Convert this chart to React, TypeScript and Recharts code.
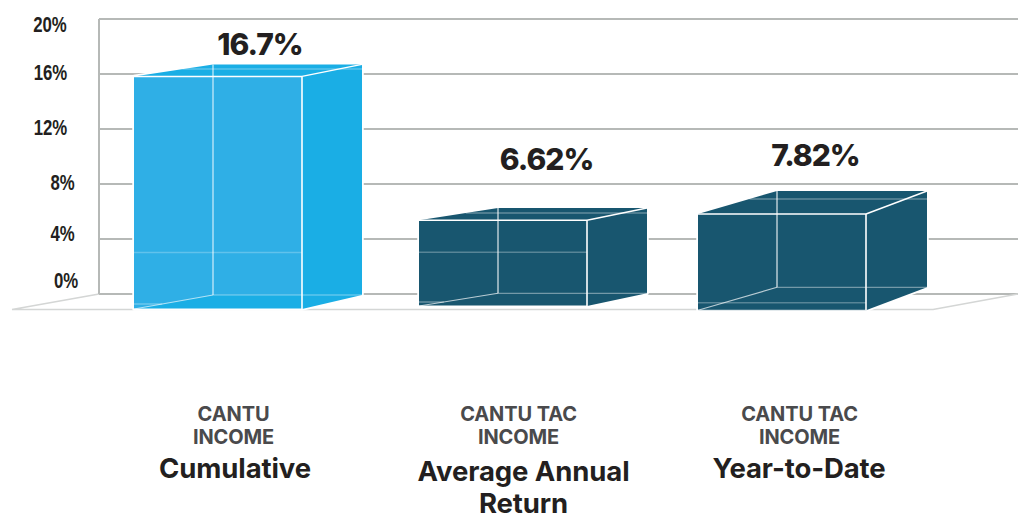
import React from "react";
import { ComposedChart, Bar, XAxis, YAxis, CartesianGrid, LabelList, Customized } from "recharts";

const fundNames = ["CANTU|INCOME", "CANTU TAC|INCOME", "CANTU TAC|INCOME"];
const periods = ["Cumulative", "Average Annual|Return", "Year-to-Date"];
const returns = [16.7, 6.62, 7.82];
const yTicks = [0, 4, 8, 12, 16, 20];

const data = periods.map((period, i) => ({ key: String(i), period, fund: fundNames[i], value: returns[i] }));

const W = 1018, H = 514, LEFT = 99, TOP = 19, BASE = 294;
const GRID = "#b6b9b7";
const FONT = "Inter, sans-serif";

// perspective of each drawn box, relative to the rectangle given by the bar scale
const BOX = [
  { dx: 0, dw: 0, back: 0, front: 12, frontLow: 15, backLow: 1, light: "#2fafe6", dark: "#1aaee5", hairTop: 69, hairFront: [252.5], hairLow: 304, line: 0.35 },
  { dx: 3, dw: 0, back: 5, front: 17.3, frontLow: 12, backLow: -0.7, light: "#18566f", dark: "#18566f", hairTop: 213, hairFront: [252.3], hairLow: 302, line: 0.4 },
  { dx: 0, dw: 1, back: 4.5, front: 27.5, frontLow: 16.3, backLow: -6.7, light: "#18566f", dark: "#18566f", hairTop: 199, hairFront: [302.7], hairLow: 0, line: 0.4 },
];
const FRONT_W = 168, BACK_X = 79;

const BoxShape = (p: any) => {
  const b = BOX[p.index];
  const fl = p.x + b.dx;
  const fr = fl + FRONT_W;
  const bl = fl + BACK_X;
  const br = fl + p.width + b.dw;
  const bt = p.y + b.back;
  const ft = p.y + b.front;
  const bot = p.y + p.height;
  const fb = bot + b.frontLow;
  const bb = bot + b.backLow;
  const topX = fl + (BACK_X * (ft - b.hairTop)) / (ft - bt);
  const lowX = fl + (BACK_X * (fb - b.hairLow)) / (fb - bb);
  const hair = (x1: number, y1: number, x2: number, y2: number, o: number, w = 1.2) => (
    <line x1={x1} y1={y1} x2={x2} y2={y2} stroke="#fff" strokeOpacity={o} strokeWidth={w} />
  );
  return (
    <g>
      <polygon
        points={`${fl},${ft} ${bl},${bt} ${br},${bt} ${br},${bb} ${fr},${fb} ${fl},${fb}`}
        fill={b.dark}
        stroke="#fff"
        strokeWidth={3.5}
        strokeLinejoin="round"
        paintOrder="stroke"
      />
      <rect x={fl} y={ft} width={FRONT_W} height={fb - ft} fill={b.light} />
      <polygon points={`${fl},${fb} ${bl},${bb} ${fr},${bb} ${fr},${fb}`} fill={b.dark} />
      {hair(topX, b.hairTop, br, b.hairTop, b.line * 0.8, 1.6)}
      {b.hairFront.map((h) => hair(fl, h, fr, h, b.line * 0.7, 1.5))}
      {b.hairLow ? hair(fl, b.hairLow, lowX, b.hairLow, b.line, 1.3) : null}
      {hair(bl, bt, bl, bb, b.line + 0.12, 2)}
      {hair(bl, bb, br, bb, b.line + 0.1, 1)}
      {hair(fl, fb, bl, bb, b.line + 0.3, 1.1)}
      {hair(fl, ft, fr, ft, 1, 1.5)}
      {hair(fr, ft, fr, fb, 1, 1.6)}
      {hair(fr, ft, br, bt, 1, 1.4)}
      {hair(fl, fb, fr, fb, 1, 1)}
    </g>
  );
};

const Floor = () => (
  <g>
    <polyline points={`${LEFT},${BASE} 12,309.5 933,309.5 ${W},${BASE}`} fill="none" stroke="#d4d6d5" strokeWidth={1.4} />
  </g>
);

const Y_TICK_POS: Record<number, [number, number]> = {
  20: [50, 32], 16: [50.5, 80], 12: [50.5, 135], 8: [62.5, 190], 4: [62.5, 241], 0: [66, 288],
};

const YTick = (p: any) => {
  const [x, y] = Y_TICK_POS[p.payload.value];
  return (
    <text
      transform={`translate(${x},${y}) scale(0.78,1)`}
      textAnchor="middle"
      fontFamily="'Liberation Sans', sans-serif"
      fontWeight={700}
      fontSize={21.5}
      fill="#231f20"
    >
      {p.payload.value}%
    </text>
  );
};

const X_LABEL = [
  { fx: 233.5, nx: 235, ny: [478] },
  { fx: 518.5, nx: 523.5, ny: [481, 513] },
  { fx: 799.5, nx: 799, ny: [478] },
];

const XTick = (p: any) => {
  const i = Number(p.payload.value);
  const l = X_LABEL[i];
  const fund = fundNames[i].split("|");
  const name = periods[i].split("|");
  return (
    <g fontFamily={FONT} fontWeight={700} textAnchor="middle">
      {fund.map((t, k) => (
        <text key={t} x={l.fx} y={421 + k * 22.5} fontSize={20} letterSpacing={-0.1} fill="#4a4a4c">{t}</text>
      ))}
      {name.map((t, k) => (
        <text key={t} x={l.nx} y={l.ny[k]} fontSize={27.5} letterSpacing={-0.1} fill="#231f20">{t}</text>
      ))}
    </g>
  );
};

const VALUE_POS = [[260, 55], [546.5, 170], [815.5, 166]];
const ValueLabel = (p: any) => {
  const [x, y] = VALUE_POS[p.index];
  return (
    <text x={x} y={y} textAnchor="middle" fontFamily={FONT} fontWeight={800} fontSize={30} letterSpacing={-1} fill="#231f20">
      {p.value}%
    </text>
  );
};

export default function App() {
  return (
    <div style={{ position: "absolute", left: 0, top: 0, width: W, height: H, background: "#fff", overflow: "hidden" }}>
      <ComposedChart width={W} height={H} data={data} margin={{ top: TOP, right: 0, bottom: 0, left: 0 }} barSize={228}>
        <CartesianGrid vertical={false} horizontal stroke={GRID} strokeWidth={2} />
        <Customized component={Floor} />
        <XAxis dataKey="key" height={H - BASE} axisLine={false} tickLine={false} tick={<XTick />} interval={0} padding={{ left: 8, right: 65 }} />
        <YAxis width={LEFT} domain={[0, 20]} ticks={yTicks} interval={0} axisLine={{ stroke: GRID, strokeWidth: 2 }} tickLine={false} tick={<YTick />} />
        <Bar dataKey="value" shape={<BoxShape />} isAnimationActive={false}>
          <LabelList dataKey="value" content={<ValueLabel />} />
        </Bar>
      </ComposedChart>
    </div>
  );
}
